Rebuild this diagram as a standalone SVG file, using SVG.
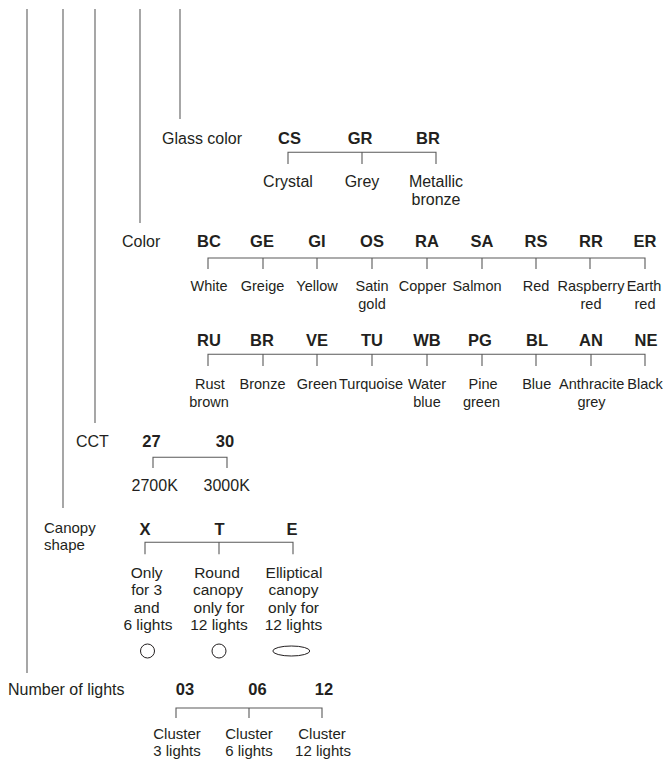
<svg xmlns="http://www.w3.org/2000/svg" width="664" height="762" viewBox="0 0 664 762">
<style>
.lbl{font-family:"Liberation Sans",Arial,sans-serif;font-size:16px;fill:#231f20}
.code{font-family:"Liberation Sans",Arial,sans-serif;font-size:16.5px;font-weight:bold;fill:#231f20;text-anchor:middle}
.nm{font-family:"Liberation Sans",Arial,sans-serif;font-size:14.5px;fill:#231f20;text-anchor:middle}
.nm2{font-family:"Liberation Sans",Arial,sans-serif;font-size:15.5px;fill:#231f20;text-anchor:middle}
.sm{font-family:"Liberation Sans",Arial,sans-serif;font-size:15px;fill:#231f20}
.vl{stroke:#777;stroke-width:1.3;fill:none}
.br{stroke:#5a5a5a;stroke-width:1.1;fill:none}
.shp{stroke:#231f20;stroke-width:1;fill:none}
</style>
<rect width="664" height="762" fill="#fff"/>
<g id="connectors">
<line class="vl" x1="27" y1="9" x2="27" y2="673"/>
<line class="vl" x1="63" y1="9" x2="63" y2="508"/>
<line class="vl" x1="95" y1="9" x2="95" y2="423"/>
<line class="vl" x1="140" y1="9" x2="140" y2="223"/>
<line class="vl" x1="180" y1="9" x2="180" y2="119"/>
<path class="br" d="M288 164V152.3H436V164M362 152.3V164"/>
<path class="br" d="M208 269V258H645V269M263 258V269M317 258V269M372 258V269M427 258V269M482 258V269M536 258V269M590 258V269"/>
<path class="br" d="M208 366V354.3H645V366M263 354.3V366M317 354.3V366M372 354.3V366M427 354.3V366M482 354.3V366M536 354.3V366M591 354.3V366"/>
<path class="br" d="M153 468V457.3H227V468"/>
<path class="br" d="M145 554.3V542.3H293V554.3M219 542.3V554.3"/>
<path class="br" d="M176 718V708H322V718M249 708V718"/>
</g>
<g id="glass-color">
<text class="lbl" x="162" y="144">Glass color</text>
<text class="code" x="289.5" y="144">CS</text>
<text class="code" x="360" y="144">GR</text>
<text class="code" x="428" y="144">BR</text>
<text class="nm2" x="288" y="187" style="font-size:16px">Crystal</text>
<text class="nm2" x="362" y="187" style="font-size:16px">Grey</text>
<text class="nm2" x="436" y="187" style="font-size:16px">Metallic</text>
<text class="nm2" x="436" y="205" style="font-size:16px">bronze</text>
</g>
<g id="color">
<text class="lbl" x="122" y="247">Color</text>
<text class="code" x="209" y="247">BC</text>
<text class="code" x="262" y="247">GE</text>
<text class="code" x="317" y="247">GI</text>
<text class="code" x="372" y="247">OS</text>
<text class="code" x="427" y="247">RA</text>
<text class="code" x="482" y="247">SA</text>
<text class="code" x="536" y="247">RS</text>
<text class="code" x="591" y="247">RR</text>
<text class="code" x="645" y="247">ER</text>
<text class="nm" x="209" y="291">White</text>
<text class="nm" x="262.5" y="291">Greige</text>
<text class="nm" x="317" y="291">Yellow</text>
<text class="nm" x="372" y="291">Satin</text>
<text class="nm" x="372" y="309">gold</text>
<text class="nm" x="422.5" y="291">Copper</text>
<text class="nm" x="477" y="291">Salmon</text>
<text class="nm" x="536" y="291">Red</text>
<text class="nm" x="591" y="291">Raspberry</text>
<text class="nm" x="591" y="309">red</text>
<text class="nm" x="644" y="291">Earth</text>
<text class="nm" x="645" y="309">red</text>
<text class="code" x="209" y="346">RU</text>
<text class="code" x="262" y="346">BR</text>
<text class="code" x="317" y="346">VE</text>
<text class="code" x="372" y="346">TU</text>
<text class="code" x="427" y="346">WB</text>
<text class="code" x="480" y="346">PG</text>
<text class="code" x="537" y="346">BL</text>
<text class="code" x="591" y="346">AN</text>
<text class="code" x="646" y="346">NE</text>
<text class="nm" x="210" y="389">Rust</text>
<text class="nm" x="209" y="407">brown</text>
<text class="nm" x="262.5" y="389">Bronze</text>
<text class="nm" x="317" y="389">Green</text>
<text class="nm" x="371" y="389">Turquoise</text>
<text class="nm" x="427" y="389">Water</text>
<text class="nm" x="427" y="407">blue</text>
<text class="nm" x="483" y="389">Pine</text>
<text class="nm" x="481.5" y="407">green</text>
<text class="nm" x="536.7" y="389">Blue</text>
<text class="nm" x="591.7" y="389">Anthracite</text>
<text class="nm" x="591.5" y="407">grey</text>
<text class="nm" x="645" y="389">Black</text>
</g>
<g id="cct">
<text class="lbl" x="76" y="447">CCT</text>
<text class="code" x="151.5" y="447">27</text>
<text class="code" x="225" y="447">30</text>
<text class="nm2" x="154.7" y="491" style="font-size:16px">2700K</text>
<text class="nm2" x="226.7" y="491" style="font-size:16px">3000K</text>
</g>
<g id="canopy-shape">
<text class="sm" x="44" y="533">Canopy</text>
<text class="sm" x="44" y="550">shape</text>
<text class="code" x="145" y="535">X</text>
<text class="code" x="219.5" y="535">T</text>
<text class="code" x="292" y="535">E</text>
<text class="nm2" x="146.7" y="577.7">Only</text>
<text class="nm2" x="146.7" y="595.2">for 3</text>
<text class="nm2" x="146.7" y="612.7">and</text>
<text class="nm2" x="148" y="630.2">6 lights</text>
<text class="nm2" x="217" y="577.7">Round</text>
<text class="nm2" x="218" y="595.2">canopy</text>
<text class="nm2" x="219" y="612.7">only for</text>
<text class="nm2" x="219" y="630.2">12 lights</text>
<text class="nm2" x="294" y="577.7">Elliptical</text>
<text class="nm2" x="293.5" y="595.2">canopy</text>
<text class="nm2" x="293.5" y="612.7">only for</text>
<text class="nm2" x="293.5" y="630.2">12 lights</text>
<circle class="shp" cx="147.5" cy="651" r="7"/>
<circle class="shp" cx="219" cy="651" r="7"/>
<ellipse class="shp" cx="291.3" cy="651" rx="18.5" ry="5"/>
</g>
<g id="number-of-lights">
<text class="lbl" x="8" y="695">Number of lights</text>
<text class="code" x="185" y="695">03</text>
<text class="code" x="257.5" y="695">06</text>
<text class="code" x="324" y="695">12</text>
<text class="nm2" x="177" y="739" style="font-size:15px">Cluster</text>
<text class="nm2" x="177" y="756" style="font-size:15px">3 lights</text>
<text class="nm2" x="249" y="739" style="font-size:15px">Cluster</text>
<text class="nm2" x="249" y="756" style="font-size:15px">6 lights</text>
<text class="nm2" x="322" y="739" style="font-size:15px">Cluster</text>
<text class="nm2" x="323" y="756" style="font-size:15px">12 lights</text>
</g>
</svg>
